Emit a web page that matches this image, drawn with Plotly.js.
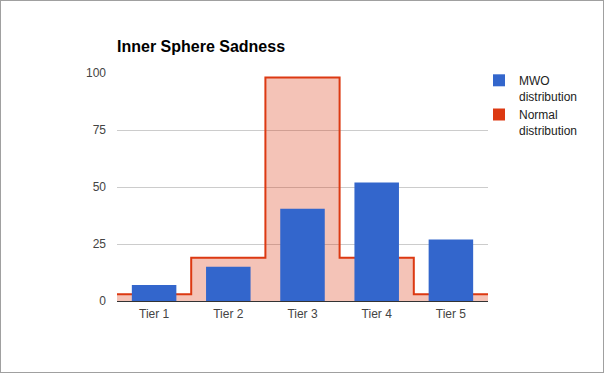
<!DOCTYPE html>
<html>
<head>
<meta charset="utf-8">
<script src="https://cdn.plot.ly/plotly-3.0.1.min.js"></script>
<style>
  html, body { margin: 0; padding: 0; background: #fff; }
  #frame { width: 604px; height: 373px; box-sizing: border-box; border: 1px solid #a0a0a0; overflow: hidden; }
  #chart { width: 602px; height: 371px; }
</style>
</head>
<body>
<div id="frame"><div id="chart"></div></div>
<script>
const categories = ["Tier 1", "Tier 2", "Tier 3", "Tier 4", "Tier 5"];
const mwoValues = [7, 15, 40.5, 52, 27];
const normalValues = [3, 19, 98, 19, 3];
const yTicks = [0, 25, 50, 75, 100];
const seriesNames = ["MWO<br>distribution", "Normal<br>distribution"];

const idx = categories.map((_, i) => i);
// stepped area: each step spans a full category slot
const stepX = idx.map(i => i - 0.5).concat([categories.length - 0.5]);
const stepY = normalValues.concat([normalValues[normalValues.length - 1]]);

const blue = "#3366cc";
const red = "#dc3912";
const xRange = [-0.5, categories.length - 0.5];

const traces = [
  {
    type: "scatter", mode: "lines", x: stepX, y: stepY, xaxis: "x", yaxis: "y",
    line: { shape: "hv", color: red, width: 2 },
    fill: "tozeroy", fillcolor: "rgba(220,57,18,0.3)",
    showlegend: false, hoverinfo: "skip", cliponaxis: false
  },
  {
    type: "bar", x: idx, y: mwoValues, xaxis: "x2", yaxis: "y",
    marker: { color: blue, line: { width: 0 } },
    showlegend: false
  },
  {
    type: "scatter", mode: "markers", x: [null], y: [null], name: seriesNames[0],
    marker: { symbol: "square", size: 12, color: blue }
  },
  {
    type: "scatter", mode: "markers", x: [null], y: [null], name: seriesNames[1],
    marker: { symbol: "square", size: 12, color: red }
  }
];

const layout = {
  width: 602, height: 371,
  margin: { l: 116, r: 115, t: 72, b: 71, autoexpand: false },
  paper_bgcolor: "#fff", plot_bgcolor: "#fff",
  font: { family: "Arial, 'Liberation Sans', sans-serif", size: 12, color: "#444" },
  title: {
    text: "<b>Inner Sphere Sadness</b>",
    font: { family: "Arial, 'Liberation Sans', sans-serif", size: 16, color: "#000" },
    x: 116 / 602, xanchor: "left", xref: "container",
    y: 1 - 45 / 371, yanchor: "middle", yref: "container"
  },
  bargap: 0.4,
  xaxis: {
    type: "linear", range: xRange,
    tickvals: idx, ticktext: categories,
    showgrid: false, zeroline: false,
    showline: false, automargin: false,
    ticks: "", ticklabelstandoff: 4,
    tickfont: { size: 12, color: "#444" }, fixedrange: true
  },
  xaxis2: {
    type: "linear", range: xRange, overlaying: "x", anchor: "y",
    showgrid: false, zeroline: false, showticklabels: false,
    showline: true, linecolor: "#333", linewidth: 1, side: "bottom",
    ticks: "", fixedrange: true, automargin: false
  },
  yaxis: {
    range: [0, 100], tickvals: yTicks, ticktext: yTicks.map(String),
    showgrid: true, gridcolor: "#cccccc", gridwidth: 1,
    zeroline: false, showline: false, ticks: "", automargin: false,
    ticklabelstandoff: 10,
    tickfont: { size: 12, color: "#444" }, fixedrange: true
  },
  legend: {
    x: 478 / 602, xref: "container", xanchor: "left",
    y: 1 - 65 / 371, yref: "container", yanchor: "top",
    font: { size: 12, color: "#222" },
    valign: "top", tracegroupgap: 8, bgcolor: "rgba(0,0,0,0)"
  },
  showlegend: true
};

Plotly.newPlot("chart", traces, layout, { displayModeBar: false, staticPlot: true });
</script>
</body>
</html>
